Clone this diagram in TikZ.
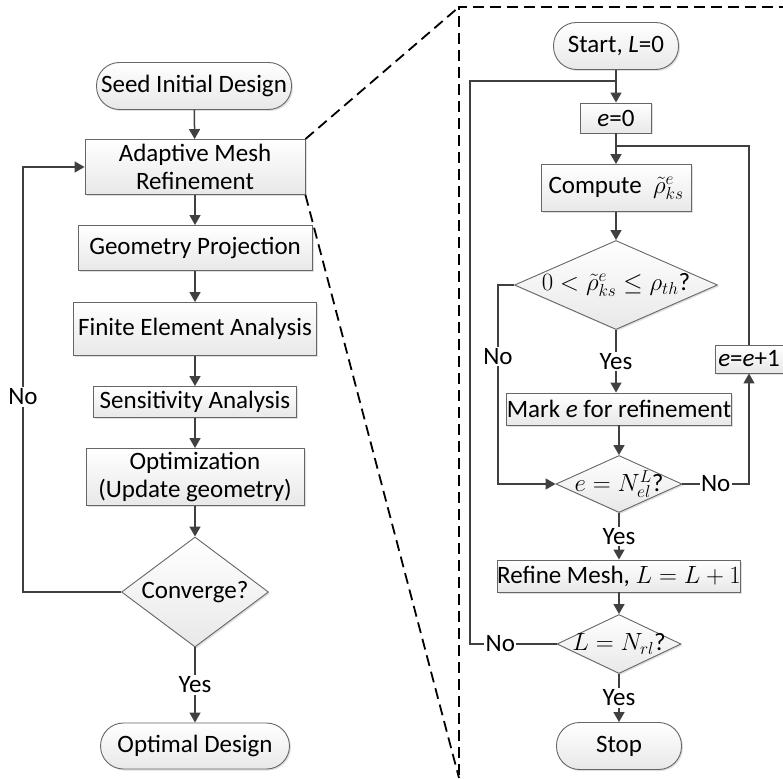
\documentclass[tikz,border=0pt]{standalone}
\usepackage{fontspec}
\setmainfont{Carlito}
\usetikzlibrary{shapes.geometric,arrows.meta,shadows}

\tikzset{
  box/.style={draw=black!60, line width=0.9pt, top color=white, bottom color=black!9,
    drop shadow={shadow xshift=1.5pt, shadow yshift=-1.5pt, opacity=0.25},
    inner sep=0pt, align=center},
  stepbox/.style={box, rectangle},
  endbox/.style={box, rounded corners=23pt},
  askbox/.style={box, diamond},
  flow/.style={draw=black!75, line width=1.5pt, -{Triangle[length=10pt,width=11pt]}},
  wire/.style={draw=black!75, line width=1.5pt},
  tag/.style={fill=white, inner sep=1.5pt},
  zoomline/.style={line width=1.8pt, dash pattern=on 11pt off 6pt}
}

\begin{document}
\begin{tikzpicture}[x=1pt, y=-1pt, font=\fontsize{25}{28}\selectfont]
    \useasboundingbox (0,0) rectangle (783,778);
    \clip (0,0) rectangle (783,778);

    % --------------------------------------------------
    % main loop
    \node[endbox, minimum width=195pt, minimum height=47pt] (seed) at (194,86) {Seed Initial Design};
    \node[stepbox, minimum width=220pt, minimum height=55pt] (mesh) at (195,167) {Adaptive Mesh\\Refinement};
    \node[stepbox, minimum width=234pt, minimum height=45pt] (proj) at (195,248) {Geometry Projection};
    \node[stepbox, minimum width=243pt, minimum height=53pt] (fea) at (195,329) {Finite Element Analysis};
    \node[stepbox, minimum width=203pt, minimum height=31pt] (sens) at (195,402) {Sensitivity Analysis};
    \node[stepbox, minimum width=218pt, minimum height=57pt] (opt) at (195,477) {Optimization\\(Update geometry)};
    \node[askbox, minimum width=147pt, minimum height=110pt, label={center:Converge?}] (conv) at (195,592) {};
    \node[endbox, minimum width=189pt, minimum height=46pt] (best) at (195,746) {Optimal Design};
    \node[tag] (noA) at (23,397) {No};
    \coordinate (backL) at (23,592); % ruecksprung unten
    \coordinate (backLT) at (23,167); % ruecksprung oben

    \draw[flow] (seed) -- (mesh);
    \draw[flow] (mesh) -- (proj);
    \draw[flow] (proj) -- (fea);
    \draw[flow] (fea) -- (sens);
    \draw[flow] (sens) -- (opt);
    \draw[flow] (opt) -- (conv);
    \draw[flow] (conv) -- node[tag]{Yes} (best);
    \draw[wire] (conv.west) -- (backL) -- (noA.south);
    \draw[flow] (noA.north) -- (backLT) -- (mesh.west);

    % --------------------------------------------------
    % refinement loop
    \node[endbox, minimum width=125pt, minimum height=47pt] (start) at (616,46) {Start, \textit{L}=0};
    \node[stepbox, minimum width=71pt, minimum height=30pt] (ezero) at (616,118) {\textit{e}=0};
    \node[stepbox, minimum width=150pt, minimum height=47pt] (rho) at (616,188) {Compute ~$\tilde{\rho}^{e}_{ks}$};
    \node[askbox, minimum width=203pt, minimum height=89pt, label={center:{$0<\tilde{\rho}^{e}_{ks}\le\rho_{th}$?}}] (thr) at (616,285) {};
    \node[stepbox, minimum width=224pt, minimum height=32pt] (mark) at (619,409) {Mark \textit{e} for refinement};
    \node[askbox, minimum width=126pt, minimum height=57pt, label={center:{$e=N^{L}_{el}$?}}] (last) at (619,484) {};
    \node[stepbox, minimum width=68pt, minimum height=28pt] (next) at (749,359) {\textit{e}=\textit{e}+1};
    \node[stepbox, minimum width=235pt, minimum height=32pt] (refine) at (619,576) {Refine Mesh, $L=L+1$};
    \node[askbox, minimum width=124pt, minimum height=59pt, label={center:{$L=N_{rl}$?}}] (lvl) at (619,644) {};
    \node[endbox, minimum width=125pt, minimum height=47pt] (stop) at (619,746) {Stop};
    \coordinate (jL) at (616,81); % einmuendung level
    \coordinate (jE) at (616,146); % einmuendung element
    \coordinate (noL) at (498,285);
    \coordinate (backR) at (470,644);

    \draw[flow] (start) -- (ezero);
    \draw[flow] (ezero) -- (rho);
    \draw[flow] (rho) -- (thr);
    \draw[flow] (thr.south) -- node[tag]{Yes} (thr.south |- mark.north);
    \draw[flow] (thr.west) -- (noL) |- node[tag, pos=0.18]{No} (last.west);
    \draw[flow] (mark) -- (last);
    \draw[flow] (last.east) -| node[tag, pos=0.25]{No} (next.south);
    \draw[wire] (next.north) |- (jE);
    \draw[flow] (last) -- node[tag]{Yes} (refine);
    \draw[flow] (refine) -- (lvl);
    \draw[flow] (lvl) -- node[tag]{Yes} (stop);
    \draw[wire] (lvl.west) -- node[tag, pos=0.65]{No} (backR) |- (jL);

    % --------------------------------------------------
    % zoom frame
    \coordinate (fTL) at (459,7);
    \coordinate (fTR) at (790,7);
    \coordinate (fBL) at (459,785);
    \coordinate (fB) at (459,778);
    \draw[zoomline] (fTR) -- (fTL) -- (fBL);
    \draw[zoomline] (mesh.north east) -- (fTL);
    \draw[zoomline] (mesh.south east) -- (fB);
\end{tikzpicture}
\end{document}
